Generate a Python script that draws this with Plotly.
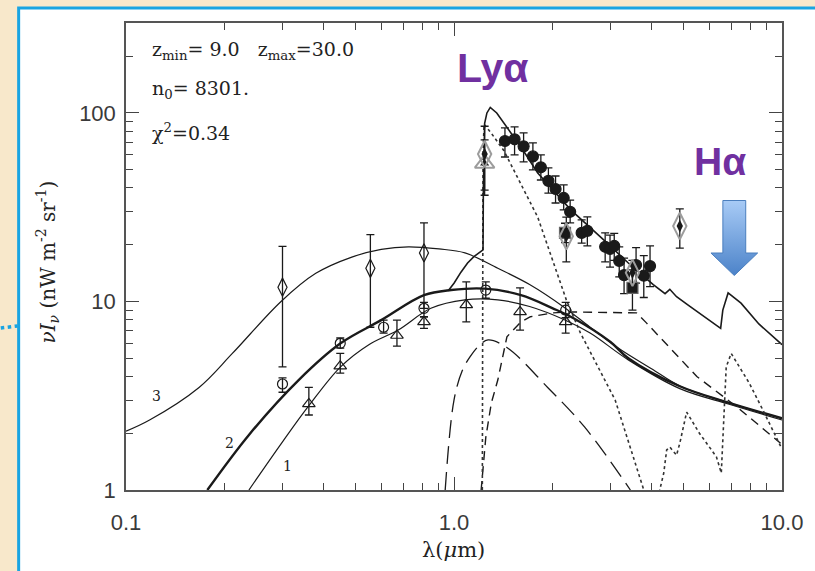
import base64
import plotly.graph_objects as go

# ---------------- model curves (lambda in micron, nu I_nu in nW m^-2 sr^-1) ----------------
lam_c3 = [0.1, 0.118, 0.167, 0.211, 0.297, 0.379, 0.488, 0.6, 0.726, 0.9, 1.08, 1.36, 1.7, 2.17, 2.6, 3.2, 4.0, 4.9, 6.9, 8.5, 10.0]
val_c3 = [2.05, 2.35, 3.5, 5.3, 10.0, 14.1, 17.2, 18.9, 19.5, 19.0, 18.1, 15.0, 12.3, 9.3, 7.3, 5.6, 4.4, 3.55, 2.9, 2.6, 2.4]

lam_c2 = [0.177, 0.237, 0.336, 0.451, 0.6, 0.81, 0.98, 1.24, 1.6, 2.0, 2.3, 3.0, 3.4, 4.88, 6.9, 10.0]
val_c2 = [1.0, 1.96, 3.83, 6.0, 7.96, 10.8, 11.5, 11.7, 10.8, 9.2, 8.2, 6.1, 5.0, 3.55, 2.9, 2.4]

lam_c1 = [0.237, 0.30, 0.361, 0.451, 0.55, 0.676, 0.85, 1.08, 1.36, 1.7, 2.17, 2.6, 3.4, 4.88, 6.9, 10.0]
val_c1 = [1.0, 1.8, 2.8, 4.5, 5.9, 7.06, 9.2, 10.2, 10.2, 9.4, 8.0, 6.8, 4.9, 3.45, 2.85, 2.35]

lam_tot = [0.96, 1.0, 1.05, 1.1, 1.15, 1.2, 1.226, 1.229, 1.233, 1.24, 1.26, 1.29, 1.35, 1.42, 1.6, 1.8, 2.0, 2.27,
           2.86, 3.4, 4.05, 4.4, 4.55, 4.77, 5.2, 6.0, 6.5, 6.6, 6.85, 7.5, 8.5, 10.0]
val_tot = [11.4, 12.5, 14.3, 16.0, 17.3, 18.4, 18.8, 40.0, 70.0, 88.0, 100.0, 107.0, 100.0, 88.0, 66.0, 48.0, 39.0, 30.6,
           21.2, 16.0, 12.3, 11.0, 11.6, 10.6, 9.5, 7.9, 7.2, 9.0, 11.1, 9.8, 7.6, 5.9]

lam_dot = [1.22, 1.221, 1.226, 1.235, 1.3, 1.42, 1.8, 2.2, 2.43, 3.1, 3.79, 4.0, 4.21, 4.36, 4.45, 4.55, 4.77,
           4.88, 5.12, 5.6, 6.31, 6.53, 6.76, 7.0, 7.94, 8.75, 9.93]
val_dot = [1.0, 10.0, 60.0, 87.0, 78.0, 63.0, 28.0, 10.2, 6.8, 3.0, 1.0, 0.8, 0.95, 1.23, 1.63, 1.69, 1.53,
           1.77, 2.59, 2.0, 1.5, 1.23, 4.5, 5.3, 3.7, 2.65, 1.69]

lam_mdash = [1.21, 1.25, 1.3, 1.36, 1.45, 1.6, 1.71, 2.0, 2.26, 3.6, 3.86, 5.5, 7.3, 9.9]
val_mdash = [1.0, 1.9, 2.9, 3.83, 6.5, 7.8, 8.3, 8.7, 8.8, 8.7, 7.7, 4.0, 2.75, 1.77]

lam_ldash = [0.94, 1.0, 1.06, 1.12, 1.2, 1.27, 1.45, 1.93, 2.5, 3.45]
val_ldash = [1.0, 3.0, 4.3, 5.1, 5.9, 6.25, 5.7, 3.5, 2.16, 1.0]

# ---------------- measurements ----------------
lam_odia = [0.30, 0.556, 0.81]
val_odia = [11.9, 15.0, 18.1]
hi_odia = [19.6, 22.6, 26.1]
lo_odia = [4.5, 7.3, 9.2]

lam_ocirc = [0.30, 0.45, 0.61, 0.81, 1.25, 2.19]
val_ocirc = [3.65, 6.0, 7.3, 9.2, 11.5, 9.0]
hi_ocirc = [3.93, 6.4, 7.96, 9.9, 12.7, 9.9]
lo_ocirc = [3.3, 5.66, 6.8, 8.3, 10.4, 8.2]

lam_otri = [0.361, 0.45, 0.67, 0.81, 1.09, 1.59, 2.19]
val_otri = [2.86, 4.54, 6.6, 7.8, 9.6, 8.8, 7.8]
hi_otri = [3.5, 5.3, 7.96, 8.3, 12.7, 11.8, 8.6]
lo_otri = [2.5, 4.17, 5.8, 7.2, 7.8, 7.05, 6.8]

lam_fcirc = [1.43, 1.53, 1.63, 1.74, 1.84, 1.94, 2.04, 2.16, 2.26, 2.45, 2.55, 2.89, 2.99, 3.08, 3.19, 3.30, 3.59, 3.79, 3.96]
val_fcirc = [71.0, 72.5, 66.5, 58.8, 51.5, 43.6, 39.5, 35.4, 29.9, 23.1, 23.7, 19.5, 19.0, 19.7, 16.4, 13.8, 15.6, 13.7, 15.4]
hi_fcirc = [83.3, 84.3, 78.3, 69.3, 59.9, 51.1, 46.3, 41.5, 34.5, 27.1, 28.1, 23.1, 22.5, 23.0, 19.5, 17.0, 19.3, 17.5, 19.7]
lo_fcirc = [58.4, 59.9, 55.0, 49.9, 44.1, 37.6, 33.3, 30.6, 26.1, 20.4, 19.7, 16.2, 15.2, 16.5, 13.5, 11.0, 12.5, 10.5, 12.0]

lam_gdia = [1.24, 2.2, 3.5, 4.88]
val_gdia = [60.5, 22.2, 14.2, 25.1]
hi_gdia = [85.0, 28.0, 16.5, 31.0]
lo_gdia = [39.0, 16.2, 12.0, 19.2]

lam_gtri = [1.24]
val_gtri = [54.0]
hi_gtri = [72.0]
lo_gtri = [36.6]

lam_sq = [2.18, 3.5]
val_sq = [23.1, 11.8]
hi_sq = [26.0, 14.7]
lo_sq = [20.5, 9.0]

# axis ticks
x_major = [0.1, 1.0, 10.0]
x_major_text = ["0.1", "1.0", "10.0"]
x_minor = [0.2, 0.3, 0.4, 0.5, 0.6, 0.7, 0.8, 0.9, 2, 3, 4, 5, 6, 7, 8, 9]
y_major = [1, 10, 100]
y_major_text = ["1", "10", "100"]
y_minor = [2, 3, 4, 5, 6, 7, 8, 9, 20, 30, 40, 50, 60, 70, 80, 90, 200, 300]

INK = "#1a1a1a"
PURPLE = "#7030A0"
GREY = "#9c9c9c"

fig = go.Figure()


def curve(x, y, width, dash="solid", shape="linear", color=INK):
    fig.add_trace(go.Scatter(x=x, y=y, mode="lines", line=dict(color=color, width=width, dash=dash, shape=shape),
                             hoverinfo="skip", showlegend=False, cliponaxis=True))


def errs(v, hi, lo):
    return [h - a for a, h in zip(v, hi)], [a - l for a, l in zip(v, lo)]


def points(x, y, symbol, size, color, lw=1.2, fill=None, hi=None, lo=None):
    kw = {}
    if hi is not None:
        up, dn = errs(y, hi, lo)
        kw["error_y"] = dict(type="data", symmetric=False, array=up, arrayminus=dn,
                             color=INK, thickness=1.3, width=4)
    fig.add_trace(go.Scatter(
        x=x, y=y, mode="markers",
        marker=dict(symbol=symbol, size=size, color=fill if fill else color,
                    line=dict(color=color, width=lw)),
        hoverinfo="skip", showlegend=False, cliponaxis=False, **kw))


# model components
curve(lam_c3, val_c3, 1.2, shape="spline")
curve(lam_c2, val_c2, 2.4, shape="spline")
curve(lam_c1, val_c1, 1.2, shape="spline")
curve(lam_ldash, val_ldash, 1.3, dash="18px,8px", shape="spline")
curve(lam_mdash, val_mdash, 1.4, dash="9px,6px")
curve(lam_dot, val_dot, 1.6, dash="dot", color="#333333")
curve(lam_tot, val_tot, 1.6)

# data
points(lam_odia, val_odia, "diamond-tall-open", 13, INK, hi=hi_odia, lo=lo_odia)
points(lam_ocirc, val_ocirc, "circle-open", 10, INK, hi=hi_ocirc, lo=lo_ocirc)
points(lam_otri, val_otri, "triangle-up-open", 11, INK, hi=hi_otri, lo=lo_otri)
points(lam_fcirc, val_fcirc, "circle", 11, INK, fill=INK, hi=hi_fcirc, lo=lo_fcirc)
points(lam_sq, val_sq, "square", 11, "#666666", fill=INK, hi=hi_sq, lo=lo_sq)
points(lam_gtri, val_gtri, "triangle-up-open", 17, GREY, lw=2, hi=hi_gtri, lo=lo_gtri)
points(lam_gtri, val_gtri, "triangle-up", 8, INK, lw=0, fill=INK)
points(lam_gdia, val_gdia, "diamond-tall-open", 19, GREY, lw=2, hi=hi_gdia, lo=lo_gdia)
points(lam_gdia, val_gdia, "diamond-tall", 9, INK, lw=0, fill=INK)

# paper-coordinate helpers (plot area spans 660 x 467 px)
L, T, W, H = 126, 23, 660, 467


def px(xp):
    return (xp - L) / W


def py(yp):
    return (T + H - yp) / H


ann = []
serif = "DejaVu Serif"
ann.append(dict(x=px(150), y=py(50), text="z<sub>min</sub>= 9.0   z<sub>max</sub>=30.0", xanchor="left",
                font=dict(family=serif, size=19, color="#222")))
ann.append(dict(x=px(150), y=py(90), text="n<sub>0</sub>= 8301.", xanchor="left",
                font=dict(family=serif, size=19, color="#222")))
ann.append(dict(x=px(150), y=py(132), text="χ<sup>2</sup>=0.34", xanchor="left",
                font=dict(family=serif, size=19, color="#222")))
ann.append(dict(x=px(157), y=py(396), text="3", font=dict(family=serif, size=14, color="#222")))
ann.append(dict(x=px(230), y=py(443), text="2", font=dict(family=serif, size=14, color="#222")))
ann.append(dict(x=px(288), y=py(466), text="1", font=dict(family=serif, size=14, color="#222")))
ann.append(dict(x=px(495), y=py(68), text="<b>Lyα</b>", font=dict(family="Liberation Sans", size=41, color=PURPLE)))
ann.append(dict(x=px(724), y=py(161), text="<b>Hα</b>", font=dict(family="Liberation Sans", size=39, color=PURPLE)))
ann.append(dict(x=px(47), y=py(262), textangle=-90,
                text="<i>νI</i><sub><i>ν</i></sub> (nW m<sup>-2</sup> sr<sup>-1</sup>)",
                font=dict(family=serif, size=20, color="#222")))
ann.append(dict(x=px(455), y=py(550), text="λ(<i>μ</i>m)", font=dict(family=serif, size=21, color="#222")))
for a in ann:
    a.update(xref="paper", yref="paper", showarrow=False, yanchor="middle")
    a.setdefault("xanchor", "center")

# blue down arrow with a vertical gradient
arrow_svg = (
    '<svg xmlns="http://www.w3.org/2000/svg" width="48" height="76" viewBox="0 0 48 76">'
    '<defs><linearGradient id="g" x1="0" y1="0" x2="0" y2="1">'
    '<stop offset="0" stop-color="#A8CBF6"/><stop offset="1" stop-color="#4C83C9"/></linearGradient></defs>'
    '<path d="M12.5,0.5 H35.5 V53 H47.5 L24,75.5 L0.5,53 H12.5 Z" fill="url(#g)" stroke="#4A7EBE" stroke-width="1"/>'
    '</svg>')
arrow_uri = "data:image/svg+xml;base64," + base64.b64encode(arrow_svg.encode()).decode()

shapes = [
    # white panel with a blue frame
    dict(type="rect", xref="paper", yref="paper", x0=px(18), y0=py(8), x1=px(840), y1=py(600),
         fillcolor="white", line=dict(color="#19A4E2", width=3), layer="below"),
    # dotted blue connector on the left edge
    dict(type="line", xref="paper", yref="paper", x0=px(0), y0=py(328), x1=px(17), y1=py(326),
         line=dict(color="#19A4E2", width=3.5, dash="dot"), layer="above"),
]

axis_common = dict(type="log", showgrid=False, zeroline=False, showline=True, linecolor="#555555", linewidth=1.5,
                   ticks="inside", ticklen=13, tickwidth=1.3, tickcolor="#444444", mirror="allticks",
                   tickfont=dict(family="Liberation Sans", size=22, color="#3a3a3a"))

fig.update_layout(
    width=815, height=571,
    margin=dict(l=L, r=815 - L - W, t=T, b=571 - T - H),
    paper_bgcolor="#F8E8CB", plot_bgcolor="rgba(0,0,0,0)",
    xaxis=dict(range=[-1, 1], tickmode="array", tickvals=x_major, ticktext=x_major_text, ticklabelstandoff=12,
               minor=dict(tickmode="array", tickvals=x_minor, ticks="inside", ticklen=7, tickwidth=1.2,
                          tickcolor="#444444", showgrid=False),
               **axis_common),
    yaxis=dict(range=[0, 2.4771], tickmode="array", tickvals=y_major, ticktext=y_major_text, ticklabelstandoff=4,
               minor=dict(tickmode="array", tickvals=y_minor, ticks="inside", ticklen=7, tickwidth=1.2,
                          tickcolor="#444444", showgrid=False),
               **axis_common),
    annotations=ann,
    shapes=shapes,
    images=[dict(source=arrow_uri, xref="paper", yref="paper", x=px(714), y=py(200), sizex=48 / W, sizey=76 / H,
                 xanchor="left", yanchor="top", sizing="stretch", layer="above")],
    showlegend=False,
)

fig.write_html("out.html")
